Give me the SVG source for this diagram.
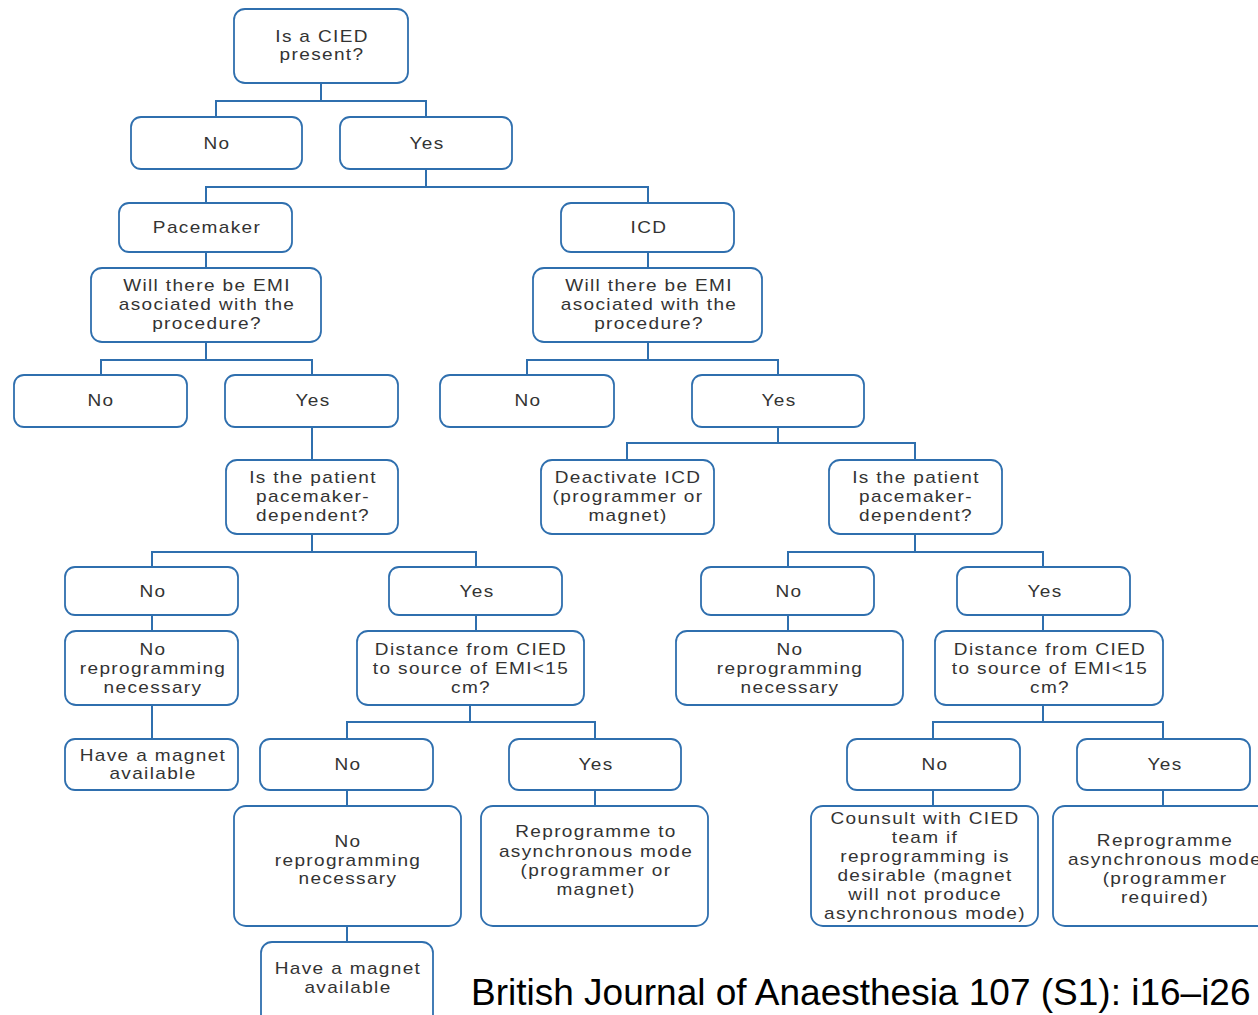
<svg xmlns="http://www.w3.org/2000/svg" width="1258" height="1015" viewBox="0 0 1258 1015">
<style>
.b{fill:#fff;stroke:#2f6fae;stroke-width:1.8}
.t{font-family:"Liberation Sans",Arial,sans-serif;font-size:17px;fill:#333;text-anchor:middle;letter-spacing:1.2px}
.c{fill:none;stroke:#2f6fae;stroke-width:2}
.cite{font-family:"Liberation Sans",Arial,sans-serif;font-size:37px;fill:#000}
</style>
<rect width="1258" height="1015" fill="#fff"/>
<g id="connectors" class="c">
<path d="M321 83V101M216 117V101H426V117"/>
<path d="M426 169V187M206 203V187H648V203"/>
<path d="M206 252V268M648 252V268"/>
<path d="M206 342V360M101 375V360H312V375"/>
<path d="M648 342V360M527 375V360H778V375"/>
<path d="M312 427V460"/>
<path d="M778 427V443M627 460V443H915V460"/>
<path d="M312 534V552M152 567V552H476V567"/>
<path d="M152 615V631M152 705V739"/>
<path d="M476 615V631"/>
<path d="M470 705V722M347 739V722H595V739"/>
<path d="M347 790V806M347 926V942M595 790V806"/>
<path d="M915 534V552M788 567V552H1043V567"/>
<path d="M788 615V631M1043 615V631"/>
<path d="M1043 705V722M933 739V722H1163V739"/>
<path d="M933 790V806M1163 790V806"/>
</g>
<g id="n1"><rect class="b" x="234" y="9" width="174" height="74" rx="11"/><g transform="translate(322 0) scale(1.12 1)"><text class="t" y="42">Is a CIED</text><text class="t" y="60">present?</text></g></g>
<g id="n2"><rect class="b" x="131" y="117" width="171" height="52" rx="10"/><g transform="translate(217 0) scale(1.12 1)"><text class="t" y="149">No</text></g></g>
<g id="n3"><rect class="b" x="340" y="117" width="172" height="52" rx="10"/><g transform="translate(427 0) scale(1.12 1)"><text class="t" y="149">Yes</text></g></g>
<g id="n4"><rect class="b" x="119" y="203" width="173" height="49" rx="10"/><g transform="translate(207 0) scale(1.12 1)"><text class="t" y="233">Pacemaker</text></g></g>
<g id="n5"><rect class="b" x="561" y="203" width="173" height="49" rx="10"/><g transform="translate(649 0) scale(1.12 1)"><text class="t" y="233">ICD</text></g></g>
<g id="n6"><rect class="b" x="91" y="268" width="230" height="74" rx="11"/><g transform="translate(207 0) scale(1.12 1)"><text class="t" y="291">Will there be EMI</text><text class="t" y="310">asociated with the</text><text class="t" y="329">procedure?</text></g></g>
<g id="n7"><rect class="b" x="533" y="268" width="229" height="74" rx="11"/><g transform="translate(649 0) scale(1.12 1)"><text class="t" y="291">Will there be EMI</text><text class="t" y="310">asociated with the</text><text class="t" y="329">procedure?</text></g></g>
<g id="n8"><rect class="b" x="14" y="375" width="173" height="52" rx="10"/><g transform="translate(101 0) scale(1.12 1)"><text class="t" y="406">No</text></g></g>
<g id="n9"><rect class="b" x="225" y="375" width="173" height="52" rx="10"/><g transform="translate(313 0) scale(1.12 1)"><text class="t" y="406">Yes</text></g></g>
<g id="n10"><rect class="b" x="440" y="375" width="174" height="52" rx="10"/><g transform="translate(528 0) scale(1.12 1)"><text class="t" y="406">No</text></g></g>
<g id="n11"><rect class="b" x="692" y="375" width="172" height="52" rx="10"/><g transform="translate(779 0) scale(1.12 1)"><text class="t" y="406">Yes</text></g></g>
<g id="n12"><rect class="b" x="226" y="460" width="172" height="74" rx="11"/><g transform="translate(313 0) scale(1.12 1)"><text class="t" y="483">Is the patient</text><text class="t" y="502">pacemaker-</text><text class="t" y="521">dependent?</text></g></g>
<g id="n13"><rect class="b" x="541" y="460" width="173" height="74" rx="11"/><g transform="translate(628 0) scale(1.12 1)"><text class="t" y="483">Deactivate ICD</text><text class="t" y="502">(programmer or</text><text class="t" y="521">magnet)</text></g></g>
<g id="n14"><rect class="b" x="829" y="460" width="173" height="74" rx="11"/><g transform="translate(916 0) scale(1.12 1)"><text class="t" y="483">Is the patient</text><text class="t" y="502">pacemaker-</text><text class="t" y="521">dependent?</text></g></g>
<g id="n15"><rect class="b" x="65" y="567" width="173" height="48" rx="10"/><g transform="translate(153 0) scale(1.12 1)"><text class="t" y="597">No</text></g></g>
<g id="n16"><rect class="b" x="389" y="567" width="173" height="48" rx="10"/><g transform="translate(477 0) scale(1.12 1)"><text class="t" y="597">Yes</text></g></g>
<g id="n17"><rect class="b" x="701" y="567" width="173" height="48" rx="10"/><g transform="translate(789 0) scale(1.12 1)"><text class="t" y="597">No</text></g></g>
<g id="n18"><rect class="b" x="957" y="567" width="173" height="48" rx="10"/><g transform="translate(1045 0) scale(1.12 1)"><text class="t" y="597">Yes</text></g></g>
<g id="n19"><rect class="b" x="65" y="631" width="173" height="74" rx="11"/><g transform="translate(153 0) scale(1.12 1)"><text class="t" y="655">No</text><text class="t" y="674">reprogramming</text><text class="t" y="693">necessary</text></g></g>
<g id="n20"><rect class="b" x="357" y="631" width="227" height="74" rx="11"/><g transform="translate(471 0) scale(1.12 1)"><text class="t" y="655">Distance from CIED</text><text class="t" y="674">to source of EMI&lt;15</text><text class="t" y="693">cm?</text></g></g>
<g id="n21"><rect class="b" x="676" y="631" width="227" height="74" rx="11"/><g transform="translate(790 0) scale(1.12 1)"><text class="t" y="655">No</text><text class="t" y="674">reprogramming</text><text class="t" y="693">necessary</text></g></g>
<g id="n22"><rect class="b" x="935" y="631" width="228" height="74" rx="11"/><g transform="translate(1050 0) scale(1.12 1)"><text class="t" y="655">Distance from CIED</text><text class="t" y="674">to source of EMI&lt;15</text><text class="t" y="693">cm?</text></g></g>
<g id="n23"><rect class="b" x="65" y="739" width="173" height="51" rx="10"/><g transform="translate(153 0) scale(1.12 1)"><text class="t" y="761">Have a magnet</text><text class="t" y="779">available</text></g></g>
<g id="n24"><rect class="b" x="260" y="739" width="173" height="51" rx="10"/><g transform="translate(348 0) scale(1.12 1)"><text class="t" y="770">No</text></g></g>
<g id="n25"><rect class="b" x="509" y="739" width="172" height="51" rx="10"/><g transform="translate(596 0) scale(1.12 1)"><text class="t" y="770">Yes</text></g></g>
<g id="n26"><rect class="b" x="847" y="739" width="173" height="51" rx="10"/><g transform="translate(935 0) scale(1.12 1)"><text class="t" y="770">No</text></g></g>
<g id="n27"><rect class="b" x="1077" y="739" width="173" height="51" rx="10"/><g transform="translate(1165 0) scale(1.12 1)"><text class="t" y="770">Yes</text></g></g>
<g id="n28"><rect class="b" x="234" y="806" width="227" height="120" rx="12"/><g transform="translate(348 0) scale(1.12 1)"><text class="t" y="847">No</text><text class="t" y="866">reprogramming</text><text class="t" y="884">necessary</text></g></g>
<g id="n29"><rect class="b" x="481" y="806" width="227" height="120" rx="12"/><g transform="translate(596 0) scale(1.12 1)"><text class="t" y="837">Reprogramme to</text><text class="t" y="857">asynchronous mode</text><text class="t" y="876">(programmer or</text><text class="t" y="895">magnet)</text></g></g>
<g id="n30"><rect class="b" x="811" y="806" width="227" height="120" rx="12"/><g transform="translate(925 0) scale(1.12 1)"><text class="t" y="824">Counsult with CIED</text><text class="t" y="843">team if</text><text class="t" y="862">reprogramming is</text><text class="t" y="881">desirable (magnet</text><text class="t" y="900">will not produce</text><text class="t" y="919">asynchronous mode)</text></g></g>
<g id="n31"><rect class="b" x="1053" y="806" width="230" height="120" rx="12"/><g transform="translate(1165 0) scale(1.12 1)"><text class="t" y="846">Reprogramme</text><text class="t" y="865">asynchronous mode</text><text class="t" y="884">(programmer</text><text class="t" y="903">required)</text></g></g>
<g id="n32"><rect class="b" x="261" y="942" width="172" height="85" rx="11"/><g transform="translate(348 0) scale(1.12 1)"><text class="t" y="974">Have a magnet</text><text class="t" y="993">available</text></g></g>
<text class="cite" x="471" y="1005">British Journal of Anaesthesia 107 (S1): i16–i26</text>
</svg>
